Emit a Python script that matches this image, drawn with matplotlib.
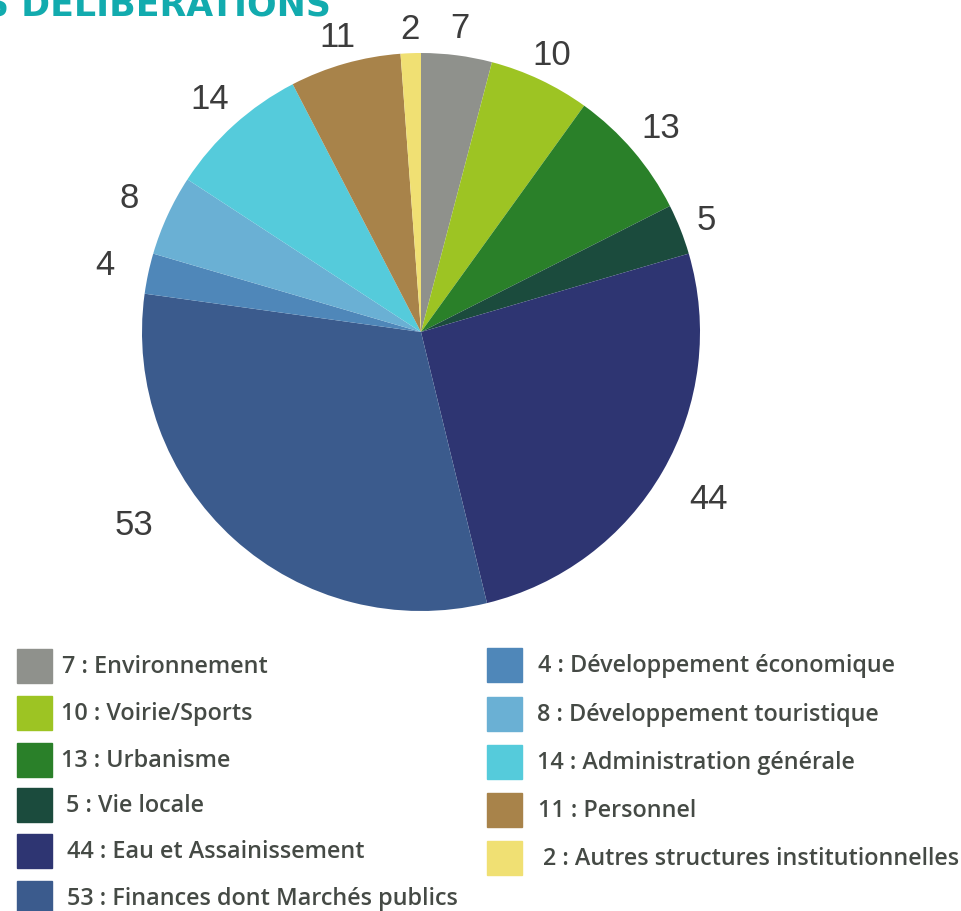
import numpy as np
import matplotlib.pyplot as plt
from matplotlib.patches import Rectangle

# donnees
categories = ['Environnement', 'Voirie/Sports', 'Urbanisme', 'Vie locale',
              'Eau et Assainissement', 'Finances dont Marchés publics',
              'Développement économique', 'Développement touristique',
              'Administration générale', 'Personnel',
              'Autres structures institutionnelles']
values = [7, 10, 13, 5, 44, 53, 4, 8, 14, 11, 2]
colors = ['#8f918c', '#9dc423', '#2a8029', '#1b4b3d', '#2e3572', '#3b5b8d',
          '#4f87b9', '#6ab0d4', '#55cbdb', '#a8834a', '#f0e073']

# distance des etiquettes (en rayons) et decalage angulaire
lab_r = [1.10, 1.10, 1.13, 1.10, 1.19, 1.24, 1.16, 1.15, 1.13, 1.10, 1.09]
lab_shift = [0, 0, 0, 0, 0, -14, 0, 0, 0, 0, 0]

W, H = 962, 912
fig = plt.figure(figsize=(W / 100, H / 100), dpi=100)

cx, cy, R = 421, 333, 279
ax = fig.add_axes([(cx - R) / W, 1 - (cy + R) / H, 2 * R / W, 2 * R / H])
wedges, _ = ax.pie(values, colors=colors, startangle=90, counterclock=False,
                   wedgeprops=dict(linewidth=0))
ax.set_xlim(-1, 1)
ax.set_ylim(-1, 1)
ax.axis('off')

for w, v, r, s in zip(wedges, values, lab_r, lab_shift):
    a = np.radians((w.theta1 + w.theta2) / 2 + s)
    ax.text(r * np.cos(a), r * np.sin(a), str(v), ha='center', va='center',
            fontsize=25, color='#3c3c3c', family='Liberation Sans', clip_on=False)

# titre coupe en haut (comme sur l'original)
fig.text(331 / W, 1 - 15 / H, 'LES DÉLIBÉRATIONS', ha='right', va='baseline',
         fontsize=25, fontweight='bold', color='#12abae', family='DejaVu Sans')

# legende manuelle
left_y = [667, 714, 761, 806, 852, 899]
left_tx = [62, 61, 61, 66, 67, 67]
right_y = [666, 715, 763, 811, 859]
right_tx = [538, 537, 537, 538, 543]
rows = [(17, tx, y) for tx, y in zip(left_tx, left_y)] + \
       [(487, tx, y) for tx, y in zip(right_tx, right_y)]
for (bx, tx, y), cat, v, c in zip(rows, categories, values, colors):
    fig.patches.append(Rectangle((bx / W, 1 - (y + 17) / H), 35 / W, 34 / H,
                                 transform=fig.transFigure, color=c))
    fig.text(tx / W, 1 - y / H, f'{v} : {cat}', ha='left', va='center',
             fontsize=16.8, fontweight='semibold', color='#454a45', family='Open Sans')

plt.savefig('out.png', dpi=100)
plt.close()
